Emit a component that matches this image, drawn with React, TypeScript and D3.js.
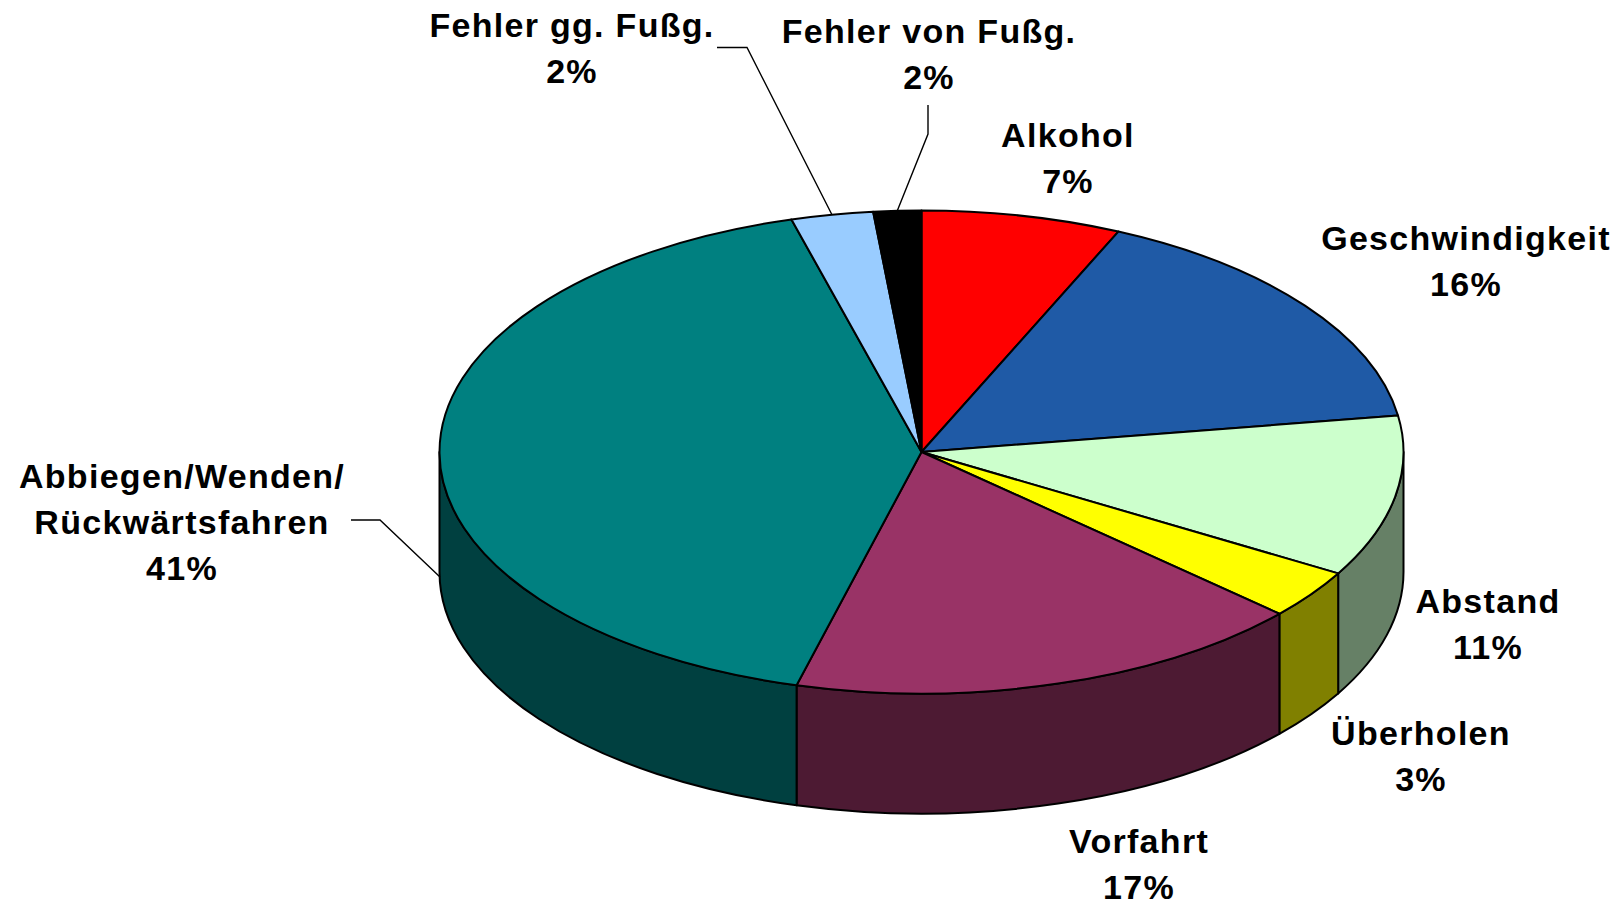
import React from "react";
import * as d3 from "d3";

const categories = ["Alkohol", "Geschwindigkeit", "Abstand", "Überholen", "Vorfahrt", "Abbiegen/Wenden/Rückwärtsfahren", "Fehler gg. Fußg.", "Fehler von Fußg."];
const shares = [6.7, 15.9, 10.8, 3.3, 17.5, 41.5, 2.75, 1.6];
const percentLabels = ["7%", "16%", "11%", "3%", "17%", "41%", "2%", "2%"];
const topColors = ["#FF0000", "#1F5AA6", "#CCFFCC", "#FFFF00", "#993366", "#008080", "#99CCFF", "#000000"];
const sideColors = ["#800000", "#0F2D53", "#668066", "#808000", "#4D1A33", "#004040", "#4D6680", "#000000"];

const labelLines = [["Alkohol"], ["Geschwindigkeit"], ["Abstand"], ["Überholen"], ["Vorfahrt"], ["Abbiegen/Wenden/", "Rückwärtsfahren"], ["Fehler gg. Fußg."], ["Fehler von Fußg."]];
const labelX = [1068, 1466, 1488, 1421, 1139, 182, 572, 929];
const labelY = [147, 250, 613, 745, 853, 488, 37, 43];

const W = 1620, H = 904, cx = 921.5, cy = 452, rx = 482, ry = 241.5, depth = 120, lineGap = 46;

const pt = (a: number, dy = 0): [number, number] => [cx + rx * Math.sin(a), cy + dy - ry * Math.cos(a)];

function topPath(a0: number, a1: number) {
  const [x0, y0] = pt(a0), [x1, y1] = pt(a1);
  const large = a1 - a0 > Math.PI ? 1 : 0;
  return `M${cx},${cy}L${x0},${y0}A${rx},${ry} 0 ${large} 1 ${x1},${y1}Z`;
}
function sidePath(a0: number, a1: number) {
  const s = Math.max(a0, Math.PI / 2), e = Math.min(a1, (3 * Math.PI) / 2);
  if (e <= s) return null;
  const [x0, y0] = pt(s), [x1, y1] = pt(e), [x2, y2] = pt(e, depth), [x3, y3] = pt(s, depth);
  return `M${x0},${y0}A${rx},${ry} 0 0 1 ${x1},${y1}L${x2},${y2}A${rx},${ry} 0 0 0 ${x3},${y3}Z`;
}

export default function App() {
  const arcs = d3.pie<number>().sort(null).startAngle(0).endAngle(2 * Math.PI)(shares);
  const mid = (i: number) => (arcs[i].startAngle + arcs[i].endAngle) / 2;
  const gg = pt(mid(6));
  const von = pt(mid(7));
  const leaders = [
    `M717,47.5L747,47.5L${gg[0]},${gg[1]}`,
    `M928,105L928,134L${von[0]},${von[1]}`,
    `M351,520L380,520L440,577`,
  ];
  return (
    <svg width={W} height={H} viewBox={`0 0 ${W} ${H}`} style={{ position: "absolute", left: 0, top: 0, display: "block", background: "#fff" }}>
      <g stroke="#000" strokeWidth={2} strokeLinejoin="round">
        {arcs.map((d, i) => {
          const p = sidePath(d.startAngle, d.endAngle);
          return p ? <path key={categories[i]} d={p} fill={sideColors[i]} /> : null;
        })}
        {arcs.map((d, i) => (
          <path key={categories[i]} d={topPath(d.startAngle, d.endAngle)} fill={topColors[i]} />
        ))}
      </g>
      <g fill="none" stroke="#000" strokeWidth={1.4}>
        {leaders.map((d) => <path key={d} d={d} />)}
      </g>
      <g fontFamily="'Liberation Sans', Arial, sans-serif" fontWeight="bold" fontSize={34} letterSpacing={1.3} textAnchor="middle" fill="#000">
        {categories.map((c, i) => (
          <text key={c} x={labelX[i]} y={labelY[i]}>
            {[...labelLines[i], percentLabels[i]].map((t, j) => (
              <tspan key={j} x={labelX[i]} y={labelY[i] + j * lineGap}>{t}</tspan>
            ))}
          </text>
        ))}
      </g>
    </svg>
  );
}
